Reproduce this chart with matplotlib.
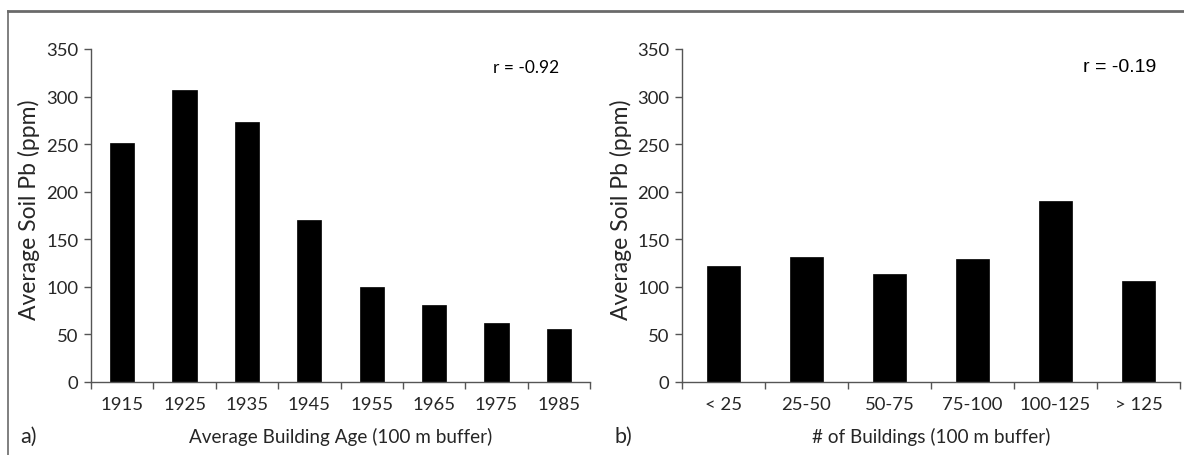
import matplotlib
matplotlib.use("Agg")
import matplotlib.pyplot as plt
import numpy as np
from matplotlib.lines import Line2D

W, H = 1184, 456
ages = ["1915", "1925", "1935", "1945", "1955", "1965", "1975", "1985"]
pb_age = [251, 307, 273, 170, 100, 81, 62, 56]
bld = ["< 25", "25-50", "50-75", "75-100", "100-125", "> 125"]
pb_bld = [122, 131, 114, 129, 190, 106]

FONT = "Lato"
TXT = "#262626"
AX = "#555555"

fig = plt.figure(figsize=(W / 100, H / 100), dpi=100)
fig.patch.set_facecolor("white")

def px(x, y):
    return x / W, 1 - y / H

def panel(left, right, cats, vals, width, xlabel, rtext, rfont, rsize, rpos, tag, tagx, ylabx):
    l, b = px(left, 383)
    r, t = px(right, 50)
    ax = fig.add_axes([l, b, r - l, t - b])
    n = len(cats)
    x = np.arange(n)
    ax.bar(x, vals, width=width, color="black", edgecolor="black", linewidth=0.5)
    ax.set_xlim(-0.5, n - 0.5)
    ax.set_ylim(0, 350)
    ax.set_yticks(np.arange(0, 351, 50))
    ax.set_xticks(x)
    ax.set_xticklabels(cats)
    ax.set_xticks(np.arange(-0.5, n, 1), minor=True)
    ax.tick_params(axis="x", which="major", length=0, pad=10, labelsize=13.3, labelcolor=TXT)
    ax.tick_params(axis="x", which="minor", length=5, width=1, color=AX, direction="out")
    ax.tick_params(axis="y", length=5, width=1, color=AX, labelsize=13.3, labelcolor=TXT, pad=4)
    for lab in ax.get_xticklabels() + ax.get_yticklabels():
        lab.set_fontfamily(FONT)
    for s in ["top", "right"]:
        ax.spines[s].set_visible(False)
    for s in ["left", "bottom"]:
        ax.spines[s].set_color(AX)
        ax.spines[s].set_linewidth(1)
    cx = (left + right) / 2
    fig.text(*px(cx, 437), xlabel, ha="center", va="center", fontsize=13.6,
             family=FONT, color=TXT)
    fig.text(*px(ylabx, 210), "Average Soil Pb (ppm)", ha="center", va="center",
             rotation=90, fontsize=16.5, family=FONT, color=TXT)
    fig.text(*px(*rpos), rtext, ha="left", va="center", fontsize=rsize,
             family=rfont, color="black")
    fig.text(*px(tagx, 437), tag, ha="left", va="center", fontsize=15.5,
             family=FONT, color=TXT)
    return ax

panel(91, 590, ages, pb_age, 0.39, "Average Building Age (100 m buffer)",
      "r = -0.92", FONT, 12.5, (493, 68), "a)", 20, 29)
panel(682, 1180, bld, pb_bld, 0.40, "# of Buildings (100 m buffer)",
      "r = -0.19", "Liberation Sans", 14, (1083, 68), "b)", 615, 621)

# frame lines (top and left)
fig.add_artist(Line2D([8 / W, 1], [1 - 12 / H, 1 - 12 / H], transform=fig.transFigure,
                      color="#6a6a6a", linewidth=2))
fig.add_artist(Line2D([8 / W, 8 / W], [0, 1 - 12 / H], transform=fig.transFigure,
                      color="#6a6a6a", linewidth=1.2))

fig.savefig("out.png", dpi=100)
